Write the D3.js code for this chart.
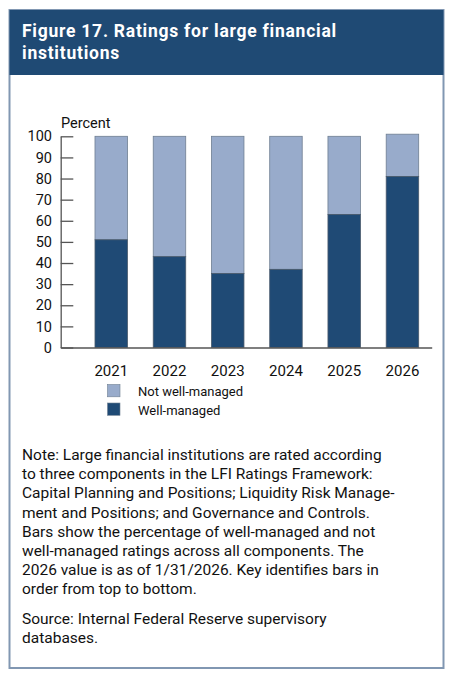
<!DOCTYPE html>
<html>
<head>
<meta charset="utf-8">
<script src="https://cdn.jsdelivr.net/npm/d3@7"></script>
<style>
  body { margin: 0; background: #fff; }
  svg { display: block; font-family: Roboto, "Liberation Sans", sans-serif; }
</style>
</head>
<body>
<div id="chart"></div>
<script>
const years = ["2021", "2022", "2023", "2024", "2025", "2026"];
const wellManaged = [51, 43, 35, 37, 63, 81];
const notWellManaged = [49, 57, 65, 63, 37, 20];
const yTicks = [0, 10, 20, 30, 40, 50, 60, 70, 80, 90, 100];
const seriesNames = ["Not well-managed", "Well-managed"];

const titleLines = ["Figure 17. Ratings for large financial", "institutions"];
const noteLines = [
  "Note: Large financial institutions are rated according",
  "to three components in the LFI Ratings Framework:",
  "Capital Planning and Positions; Liquidity Risk Manage-",
  "ment and Positions; and Governance and Controls.",
  "Bars show the percentage of well-managed and not",
  "well-managed ratings across all components. The",
  "2026 value is as of 1/31/2026. Key identifies bars in",
  "order from top to bottom."
];
const sourceLines = ["Source: Internal Federal Reserve supervisory", "databases."];

const colors = { dark: "#1f4a75", light: "#98abcb", header: "#1f4a74", frame: "#8197b2" };

const W = 454, H = 680;
const svg = d3.select("#chart").append("svg").attr("width", W).attr("height", H);

// frame + header
svg.append("rect").attr("x", 9.5).attr("y", 10).attr("width", 434).attr("height", 658)
  .attr("fill", "#fff").attr("stroke", colors.frame).attr("stroke-width", 2);
svg.append("rect").attr("x", 9.5).attr("y", 10).attr("width", 434).attr("height", 65)
  .attr("fill", colors.header);
svg.append("g").selectAll("text").data(titleLines).join("text")
  .attr("x", 22).attr("y", (d, i) => 37 + i * 21.5)
  .attr("fill", "#fff").style("font-size", "17.5px").style("font-weight", "700")
  .style("letter-spacing", "0.75px")
  .text(d => d);

// chart
const x = d3.scaleBand().domain(years).range([60.7, 431.7])
  .paddingInner(0.442).paddingOuter(0.406).align(0.725);
const y = d3.scaleLinear().domain([0, 100]).range([347.5, 136.3]);

const data = years.map((yr, i) => ({ year: yr, well: wellManaged[i], not: notWellManaged[i] }));

const bars = svg.append("g");
bars.selectAll(".light").data(data).join("rect").attr("class", "light")
  .attr("x", d => x(d.year)).attr("width", x.bandwidth())
  .attr("y", d => y(d.well + d.not)).attr("height", d => y(d.well) - y(d.well + d.not))
  .attr("fill", colors.light).attr("stroke", "#6f7f92").attr("stroke-width", 0.8);
bars.selectAll(".dark").data(data).join("rect").attr("class", "dark")
  .attr("x", d => x(d.year)).attr("width", x.bandwidth())
  .attr("y", d => y(d.well)).attr("height", d => y(0) - y(d.well))
  .attr("fill", colors.dark).attr("stroke", "#4a5a6c").attr("stroke-width", 0.8);

const yAxis = svg.append("g").attr("transform", `translate(${x.range()[0]},0)`)
  .call(d3.axisLeft(y).tickValues(yTicks).tickSizeInner(-12.6).tickSizeOuter(0).tickPadding(8.7));
yAxis.select(".domain").attr("stroke", "#555").attr("stroke-width", 1.3);
yAxis.selectAll(".tick line").attr("stroke", "#555").attr("stroke-width", 1.3);
yAxis.selectAll(".tick text").attr("fill", "#111").style("font-size", "14.5px")
  .style("font-family", "Roboto, sans-serif");

const xAxis = svg.append("g").attr("transform", `translate(0,${y(0)})`)
  .call(d3.axisBottom(x).tickSize(0).tickPadding(18));
xAxis.select(".domain").attr("stroke", "#555").attr("stroke-width", 1.3);
xAxis.selectAll(".tick text").attr("fill", "#111").style("font-size", "15px")
  .style("font-family", "Roboto, sans-serif");

svg.append("text").attr("x", 61).attr("y", 128).attr("fill", "#111")
  .style("font-size", "14.5px").text("Percent");

// legend
const legend = svg.append("g").selectAll("g").data(seriesNames).join("g")
  .attr("transform", (d, i) => `translate(107.5,${384.5 + i * 18.5})`);
legend.append("rect").attr("width", 12.5).attr("height", 12.3)
  .attr("fill", (d, i) => i === 0 ? colors.light : colors.dark)
  .attr("stroke", "#6f7f92").attr("stroke-width", 0.6);
legend.append("text").attr("x", 30.5).attr("y", 11.5).attr("fill", "#111")
  .style("font-size", "13px").text(d => d);

// note + source
svg.append("g").selectAll("text").data(noteLines).join("text")
  .attr("x", 22).attr("y", (d, i) => 460 + i * 19.2).attr("fill", "#111")
  .style("font-size", "15.5px").text(d => d);
svg.append("g").selectAll("text").data(sourceLines).join("text")
  .attr("x", 22).attr("y", (d, i) => 624 + i * 19.2).attr("fill", "#111")
  .style("font-size", "15.5px").text(d => d);
</script>
</body>
</html>
